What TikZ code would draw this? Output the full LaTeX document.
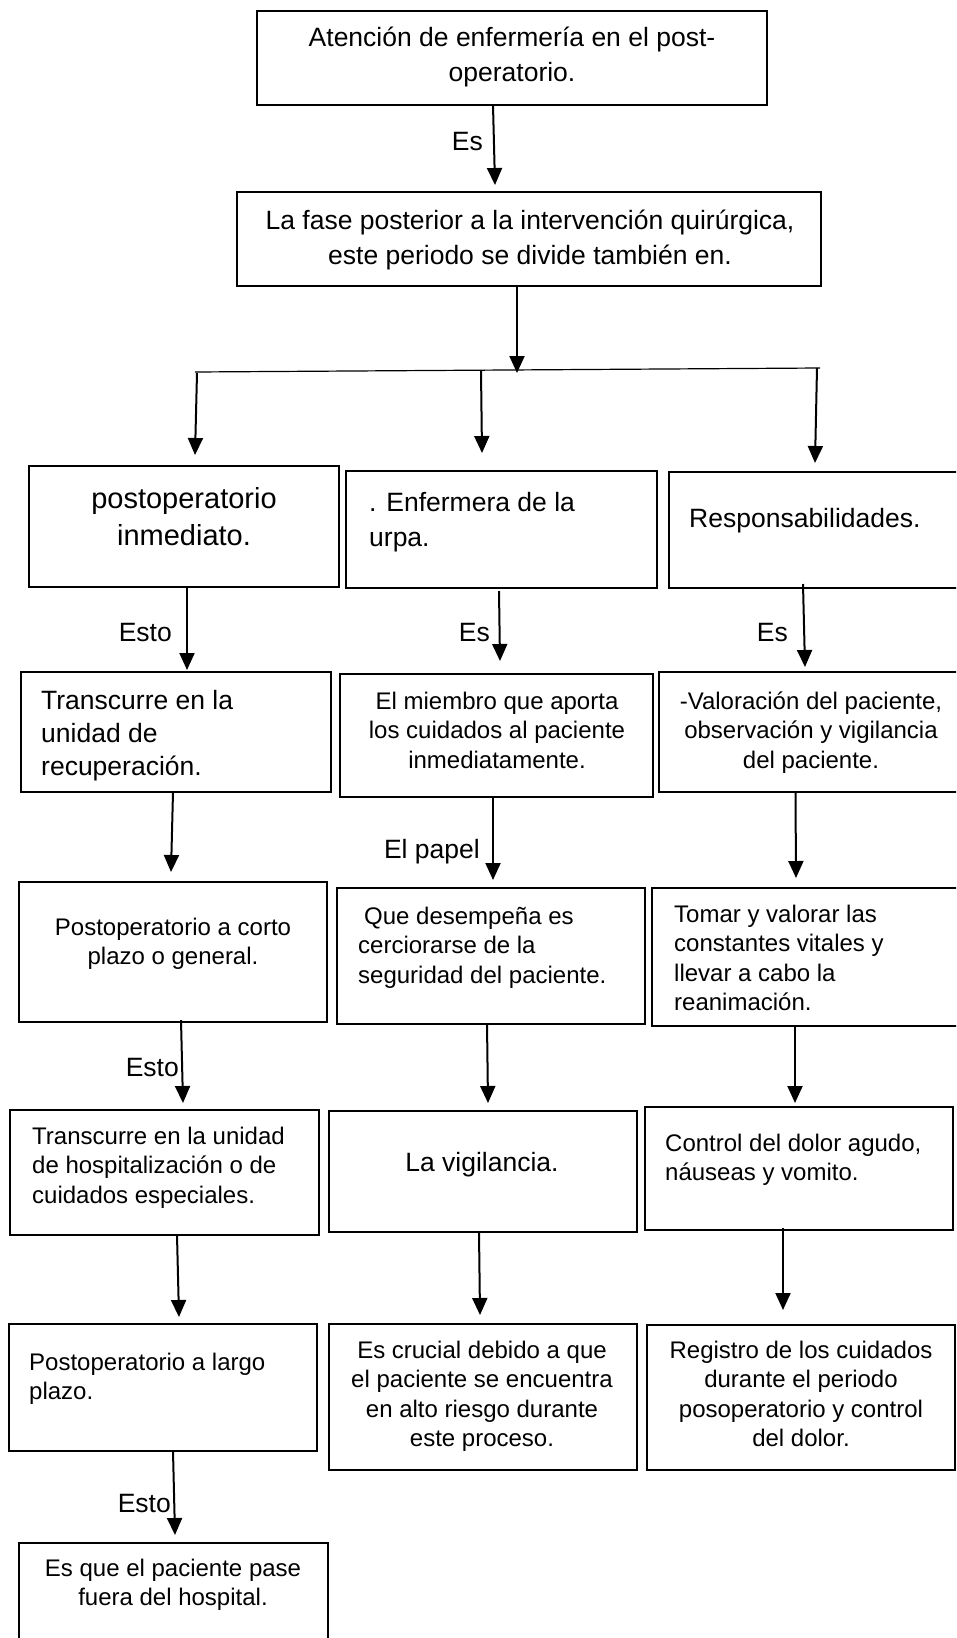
\documentclass[tikz,border=0pt]{standalone}
\usepackage{fontspec}
\setmainfont{Liberation Sans}
\usetikzlibrary{arrows.meta}
\newcommand\mkbox[5]{\node[box,minimum width={(#4-#2)*1pt},minimum height={(#5-#3)*1pt}] (#1) at ({(#2+#4)/2},{(#3+#5)/2}) {};}
\begin{document}
\begin{tikzpicture}[x=1pt,y=-1pt,
  box/.style={draw,line width=2.3pt,rectangle,inner sep=0pt,outer sep=0pt},
  arr/.style={line width=2pt,-{Triangle[length=17pt,width=15pt]}},
  fa/.style={inner sep=0pt,font=\fontsize{26.5}{34.5}\selectfont},
  fb/.style={inner sep=0pt,font=\fontsize{24}{29.5}\selectfont},
  fc/.style={inner sep=0pt,font=\fontsize{29}{37}\selectfont},
  lab/.style={fa,anchor=base east}]
\useasboundingbox (0,0) rectangle (956,1638);
\begin{scope}
\clip (0,0) rectangle (956,1638);
% boxes
\mkbox{B1}{257}{11}{767}{105}
\mkbox{B2}{237}{192}{821}{286}
\mkbox{L1}{29}{466}{339}{587}
\mkbox{M1}{346}{471}{657}{588}
\mkbox{R1}{669}{472}{962}{588}
\mkbox{L2}{21}{672}{331}{792}
\mkbox{M2}{340}{674}{653}{797}
\mkbox{R2}{659}{672}{962}{792}
\mkbox{L3}{19}{882}{327}{1022}
\mkbox{M3}{337}{888}{645}{1024}
\mkbox{R3}{652}{888}{962}{1026}
\mkbox{L4}{10}{1110}{319}{1235}
\mkbox{M4}{329}{1111}{637}{1232}
\mkbox{R4}{645}{1107}{953}{1230}
\mkbox{L5}{9}{1324}{317}{1451}
\mkbox{M5}{329}{1324}{637}{1470}
\mkbox{R5}{647}{1325}{955}{1470}
\mkbox{L6}{19}{1543}{328}{1645}
\end{scope}
% texts (anchor base = baseline of the last line)
\node[fa,anchor=base,align=center] (tB1) at (512,81) {Atención de enfermería en el post-\\operatorio.};
\node[fa,anchor=base,align=center] (tB2) at (530,264) {La fase posterior a la intervención quirúrgica,\\este periodo se divide también en.};
\node[fc,anchor=base,align=center] (tL1) at (184,545) {postoperatorio\\inmediato.};
\node[fa,anchor=base west,align=left] (tM1) at (369,546) {. Enfermera de la\\urpa.};
\node[fa,anchor=base west] (tR1) at (689,527) {Responsabilidades.};
\node[fa,anchor=base west,align=left,font=\fontsize{26.5}{33}\selectfont] (tL2) at (41,775) {Transcurre en la\\unidad de\\recuperación.};
\node[fb,anchor=base,align=center] (tM2) at (497,768) {El miembro que aporta\\los cuidados al paciente\\inmediatamente.};
\node[fb,anchor=base,align=center] (tR2) at (811,768) {-Valoración del paciente,\\observación y vigilancia\\del paciente.};
\node[fb,anchor=base,align=center] (tL3) at (173,964.5) {Postoperatorio a corto\\plazo o general.};
\node[fb,anchor=base west,align=left] (tM3) at (358,983) {\hspace{6pt}Que desempeña es\\cerciorarse de la\\seguridad del paciente.};
\node[fb,anchor=base west,align=left] (tR3) at (674,1010.5) {Tomar y valorar las\\constantes vitales y\\llevar a cabo la\\reanimación.};
\node[fb,anchor=base west,align=left] (tL4) at (32,1203) {Transcurre en la unidad\\de hospitalización o de\\cuidados especiales.};
\node[fa,anchor=base] (tM4) at (482,1171) {La vigilancia.};
\node[fb,anchor=base west,align=left] (tR4) at (665,1180.5) {Control del dolor agudo,\\náuseas y vomito.};
\node[fb,anchor=base west,align=left] (tL5) at (29,1399.5) {Postoperatorio a largo\\plazo.};
\node[fb,anchor=base,align=center] (tM5) at (482,1446.5) {Es crucial debido a que\\el paciente se encuentra\\en alto riesgo durante\\este proceso.};
\node[fb,anchor=base,align=center] (tR5) at (801,1446.5) {Registro de los cuidados\\durante el periodo\\posoperatorio y control\\del dolor.};
\node[fb,anchor=base,align=center] (tL6) at (173,1605.5) {Es que el paciente pase\\fuera del hospital.};
% labels
\node[lab] (lEs1) at (483,150) {Es};
\node[lab] (lEsto1) at (172,641) {Esto};
\node[lab] (lEs2) at (490,641) {Es};
\node[lab] (lEs3) at (788,641) {Es};
\node[lab] (lPapel) at (480,858) {El papel};
\node[lab] (lEsto2) at (179,1076) {Esto};
\node[lab] (lEsto3) at (171,1512) {Esto};
% coordinates
\coordinate (c1) at (495,185);
\coordinate (c2) at (517,373);
\coordinate (hl) at (195,372);
\coordinate (hr) at (820,368);
\coordinate (s3) at (197,373);
\coordinate (c3) at (195,455);
\coordinate (s4) at (481,371);
\coordinate (c4) at (482,453);
\coordinate (s5) at (817,368);
\coordinate (c5) at (815,463);
\coordinate (c6) at (187,670);
\coordinate (c7) at (500,661);
\coordinate (c8) at (805,667);
\coordinate (c9) at (171,872);
\coordinate (c10) at (493,880);
\coordinate (c11) at (796,878);
\coordinate (c12) at (183,1103);
\coordinate (c13) at (488,1103);
\coordinate (c14) at (795,1103);
\coordinate (c15) at (179,1317);
\coordinate (c16) at (480,1315);
\coordinate (c17) at (783,1310);
\coordinate (c18) at (175,1535);
% connectors
\draw[arr] ([xshift=-19pt]B1.south) -- (c1);
\draw[arr] ([xshift=-12pt]B2.south) -- (c2);
\draw[line width=1.2pt] (hl) -- (hr);
\draw[arr] (s3) -- (c3);
\draw[arr] (s4) -- (c4);
\draw[arr] (s5) -- (c5);
\draw[arr] ([xshift=3pt]L1.south) -- (c6);
\draw[arr] ([xshift=-2.5pt,yshift=-3pt]M1.south) -- (c7);
\draw[arr] ([xshift=-12.5pt,yshift=4pt]R1.south) -- (c8);
\draw[arr] ([xshift=-3pt]L2.south) -- (c9);
\draw[arr] ([xshift=-3.5pt]M2.south) -- (c10);
\draw[arr] ([xshift=-15pt]R2.south) -- (c11);
\draw[arr] ([xshift=8pt,yshift=2pt]L3.south) -- (c12);
\draw[arr] ([xshift=-4pt,yshift=1pt]M3.south) -- (c13);
\draw[arr] ([xshift=-12pt]R3.south) -- (c14);
\draw[arr] ([xshift=12.5pt]L4.south) -- (c15);
\draw[arr] ([xshift=-4pt]M4.south) -- (c16);
\draw[arr] ([xshift=-16pt,yshift=2pt]R4.south) -- (c17);
\draw[arr] ([xshift=10pt]L5.south) -- (c18);
\end{tikzpicture}
\end{document}
